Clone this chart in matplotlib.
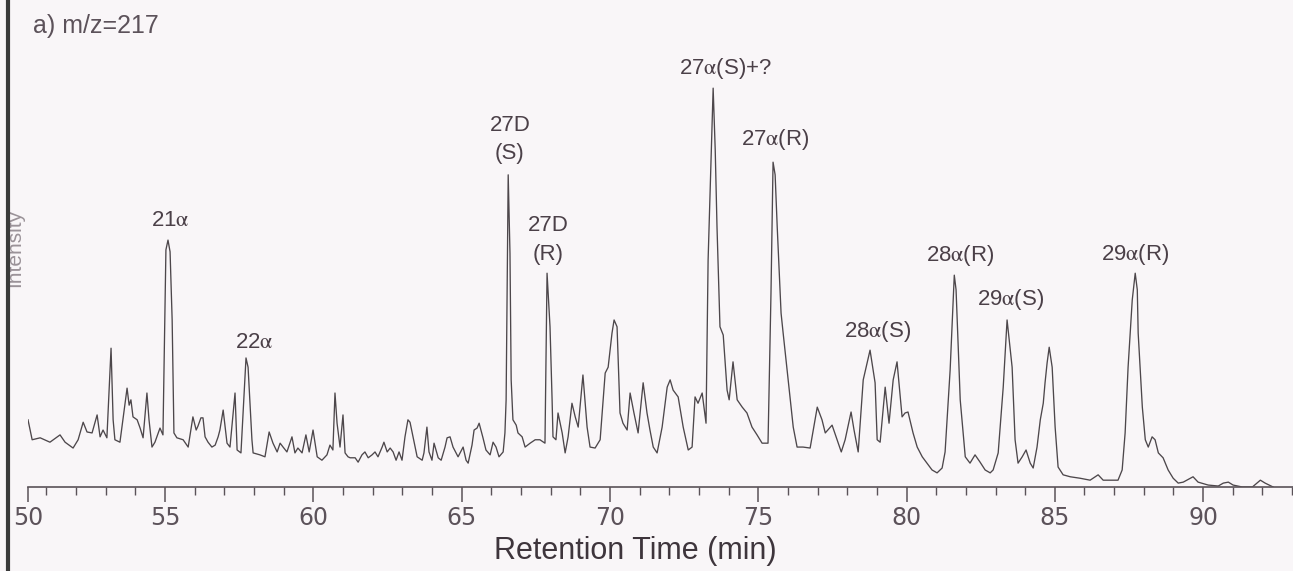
# Chromatogram m/z = 217 (steranes) - redrawn from a scanned figure
import matplotlib.pyplot as plt
from matplotlib.lines import Line2D

plt.rcParams['mathtext.fontset'] = 'stix'

# --- DATA ---
retention_time = [
    50.38, 50.52, 50.79, 51.12, 51.46, 51.63, 51.90, 52.07, 52.24, 52.37,
    52.54, 52.71, 52.81, 52.91, 53.04, 53.18, 53.25, 53.31, 53.48, 53.72,
    53.79, 53.85, 53.92, 54.06, 54.16, 54.26, 54.39, 54.46, 54.56, 54.66,
    54.83, 54.93, 55.03, 55.10, 55.17, 55.24, 55.30, 55.40, 55.61, 55.78,
    55.94, 56.05, 56.11, 56.21, 56.28, 56.35, 56.45, 56.58, 56.69, 56.79,
    56.85, 56.96, 57.09, 57.19, 57.36, 57.43, 57.56, 57.66, 57.73, 57.80,
    57.93, 57.97, 58.20, 58.37, 58.51, 58.64, 58.78, 58.88, 58.98, 59.11,
    59.28, 59.38, 59.48, 59.62, 59.75, 59.86, 59.99, 60.13, 60.29, 60.46,
    60.56, 60.66, 60.73, 60.80, 60.90, 61.00, 61.07, 61.17, 61.24, 61.41,
    61.51, 61.64, 61.74, 61.85, 61.98, 62.08, 62.18, 62.32, 62.38, 62.49,
    62.59, 62.69, 62.79, 62.89, 62.99, 63.09, 63.19, 63.26, 63.36, 63.50,
    63.67, 63.73, 63.83, 63.90, 64.00, 64.07, 64.21, 64.31, 64.44, 64.51,
    64.61, 64.71, 64.88, 65.05, 65.15, 65.22, 65.35, 65.42, 65.52, 65.59,
    65.72, 65.82, 65.96, 66.06, 66.16, 66.26, 66.40, 66.46, 66.50, 66.57,
    66.63, 66.67, 66.73, 66.84, 66.90, 67.04, 67.14, 67.31, 67.48, 67.64,
    67.81, 67.88, 67.98, 68.05, 68.08, 68.18, 68.25, 68.39, 68.49, 68.59,
    68.72, 68.83, 68.93, 69.09, 69.23, 69.33, 69.50, 69.67, 69.84, 69.94,
    70.07, 70.14, 70.24, 70.34, 70.44, 70.58, 70.68, 70.81, 70.95, 71.12,
    71.25, 71.35, 71.46, 71.59, 71.76, 71.93, 72.03, 72.13, 72.30, 72.47,
    72.64, 72.77, 72.87, 72.97, 73.11, 73.24, 73.31, 73.48, 73.55, 73.61,
    73.71, 73.82, 73.95, 74.02, 74.15, 74.29, 74.46, 74.62, 74.79, 74.96,
    75.13, 75.33, 75.43, 75.50, 75.57, 75.64, 75.77, 75.84, 76.01, 76.18,
    76.31, 76.51, 76.75, 76.99, 77.15, 77.26, 77.49, 77.66, 77.80, 77.93,
    78.13, 78.23, 78.37, 78.54, 78.77, 78.94, 79.01, 79.11, 79.28, 79.41,
    79.55, 79.68, 79.85, 79.95, 80.05, 80.22, 80.36, 80.53, 80.69, 80.86,
    81.03, 81.20, 81.30, 81.47, 81.61, 81.67, 81.81, 81.98, 82.14, 82.31,
    82.48, 82.65, 82.82, 82.92, 83.09, 83.26, 83.39, 83.56, 83.66, 83.76,
    83.90, 84.03, 84.17, 84.27, 84.40, 84.51, 84.61, 84.67, 84.74, 84.81,
    84.91, 85.01, 85.11, 85.28, 85.52, 85.85, 86.19, 86.46, 86.63, 86.97,
    87.13, 87.27, 87.37, 87.47, 87.61, 87.71, 87.78, 87.81, 87.95, 88.05,
    88.15, 88.28, 88.38, 88.49, 88.65, 88.82, 88.99, 89.16, 89.33, 89.66,
    89.83, 90.17, 90.51, 90.68, 90.85, 91.01, 91.32, 91.66, 91.93, 92.09,
    92.36,
]
intensity = [
    13.8, 9.7, 10.1, 9.2, 10.7, 9.2, 8.0, 9.7, 13.3, 11.3,
    11.1, 14.8, 10.3, 11.7, 10.1, 28.5, 13.8, 9.7, 9.2, 20.3,
    16.8, 17.9, 14.4, 13.8, 12.1, 10.1, 19.3, 13.8, 8.2, 9.2,
    12.1, 10.7, 48.7, 50.7, 48.3, 34.3, 11.1, 10.1, 9.7, 8.2,
    14.4, 11.7, 12.5, 14.2, 14.2, 10.3, 9.2, 8.2, 8.6, 10.3,
    11.7, 15.8, 9.0, 8.2, 19.3, 7.6, 7.0, 18.5, 26.5, 24.6,
    9.7, 7.0, 6.6, 6.2, 11.3, 9.0, 7.2, 9.0, 8.2, 7.2,
    10.3, 7.0, 8.0, 7.0, 10.7, 7.2, 11.7, 6.2, 5.5, 6.6,
    8.6, 7.6, 19.3, 13.1, 8.2, 14.8, 7.0, 6.2, 6.0, 6.0,
    5.1, 6.6, 7.2, 6.0, 6.6, 7.2, 6.2, 8.2, 9.2, 7.2,
    8.0, 7.2, 5.5, 7.2, 5.5, 10.3, 13.8, 13.3, 10.3, 6.2,
    5.5, 7.0, 12.3, 7.2, 5.5, 9.0, 6.0, 5.5, 8.2, 10.1,
    10.3, 8.2, 6.2, 8.2, 5.5, 4.9, 8.6, 11.7, 12.1, 13.1,
    10.1, 7.6, 6.6, 9.2, 8.2, 6.2, 7.2, 11.1, 17.9, 64.1,
    48.0, 22.0, 13.8, 12.7, 11.1, 10.3, 8.2, 9.0, 9.7, 9.7,
    9.0, 43.9, 32.9, 17.9, 10.3, 9.7, 15.2, 11.1, 7.0, 10.3,
    17.2, 14.4, 12.3, 23.0, 12.3, 8.2, 8.0, 9.7, 23.4, 24.6,
    31.6, 34.3, 32.9, 15.2, 13.1, 11.7, 19.3, 15.2, 11.1, 21.4,
    15.2, 11.7, 8.2, 7.0, 12.3, 20.5, 22.0, 19.9, 18.5, 12.3,
    7.6, 8.2, 18.5, 17.2, 19.3, 13.1, 46.6, 81.9, 69.2, 53.4,
    32.9, 31.2, 19.9, 17.9, 25.7, 17.9, 16.4, 15.2, 12.3, 10.7,
    9.0, 9.0, 39.8, 66.7, 64.1, 53.4, 35.7, 31.6, 22.0, 12.3,
    8.2, 8.2, 8.0, 16.4, 13.8, 11.1, 12.7, 9.7, 7.2, 9.7,
    15.4, 11.7, 7.2, 22.0, 28.1, 21.4, 9.7, 9.2, 20.5, 13.1,
    22.0, 25.7, 14.4, 15.2, 15.4, 11.1, 8.2, 6.2, 4.9, 3.5,
    2.9, 3.9, 7.2, 24.0, 43.5, 40.5, 17.9, 6.2, 4.9, 6.6,
    5.1, 3.5, 2.9, 3.5, 7.0, 20.5, 34.3, 24.6, 9.7, 4.9,
    6.2, 7.6, 4.9, 3.9, 8.2, 13.8, 17.2, 21.4, 25.5, 28.7,
    24.6, 12.3, 4.1, 2.5, 2.1, 1.8, 1.4, 2.5, 1.4, 1.4,
    1.4, 3.5, 11.1, 24.6, 38.4, 43.9, 40.5, 31.6, 16.4, 9.7,
    8.2, 10.3, 9.7, 7.0, 6.0, 3.5, 1.8, 0.8, 1.0, 2.1,
    1.0, 0.4, 0.2, 0.8, 1.0, 0.4, 0.0, 0.0, 1.4, 0.8,
    0.0,
]

# peak labels: text, retention time, intensity of label centre
A = '$\\mathrm{\\alpha}$'
peak_names = ['21' + A, '22' + A, '27D\n(S)', '27D\n(R)', '27' + A + '(S)+?',
              '27' + A + '(R)', '28' + A + '(S)', '28' + A + '(R)', '29' + A + '(S)', '29' + A + '(R)']
peak_rt = [55.17, 58.00, 66.63, 67.91, 73.88, 75.57, 79.01, 81.81, 83.49, 87.71]
peak_int = [54.8, 29.6, 71.3, 50.7, 86.0, 71.3, 32.0, 47.6, 38.4, 47.8]

tick_values = [50, 55, 60, 65, 70, 75, 80, 85, 90]
x_start, x_end = 50.38, 93.03

# --- PLOT ---
W, H = 1293, 571
fig = plt.figure(figsize=(W / 100, H / 100), dpi=100, facecolor='#f9f6f8')
ax = fig.add_axes([28 / W, 1 - 487 / H, 1 - 28 / W, 487 / H])
ax.set_facecolor('none')

ax.plot(retention_time, intensity, color='#4d474b', linewidth=0.95)
ax.set_xlim(x_start, x_end)
ax.set_ylim(0, 100)

for side in ['left', 'top', 'right']:
    ax.spines[side].set_visible(False)
ax.spines['bottom'].set_color('#5a5258')
ax.spines['bottom'].set_linewidth(1.2)
ax.set_yticks([])

# first label sits at the start of the axis in the original
ax.set_xticks([x_start] + tick_values[1:])
ax.set_xticklabels([str(v) for v in tick_values])
ax.set_xticks(range(51, 94), minor=True)
ax.tick_params(axis='x', which='major', length=11, width=1.1, color='#5a5258',
               pad=3, labelsize=17, labelcolor='#5c525a')
ax.tick_params(axis='x', which='minor', length=6, width=1.0, color='#5a5258')
for lbl in ax.get_xticklabels():
    lbl.set_family(['Liberation Sans Narrow', 'DejaVu Sans'])

for name, t, y in zip(peak_names, peak_rt, peak_int):
    ax.text(t, y, name, ha='center', va='center', fontsize=16, color='#4b4048',
            family='Liberation Sans', linespacing=1.45)

ax.set_xlabel('Retention Time (min)', fontsize=22, color='#3e353c',
              family='Liberation Sans', va='center')
ax.xaxis.set_label_coords(0.48, -0.131)
ax.set_ylabel('Intensity', fontsize=15, color='#9a9298', family='Liberation Sans', va='center')
ax.yaxis.set_label_coords(-0.0103, 0.49)

fig.text(33 / W, 1 - 26 / H, 'a) m/z=217', ha='left', va='center', fontsize=18,
         color='#5c525a', family='Liberation Sans')

# dark vertical edge on the left of the scan
fig.add_artist(Line2D([8 / W, 8 / W], [0, 1], transform=fig.transFigure,
                      color='#3a3a3a', linewidth=3))

fig.savefig('out.png', dpi=100, facecolor=fig.get_facecolor())
